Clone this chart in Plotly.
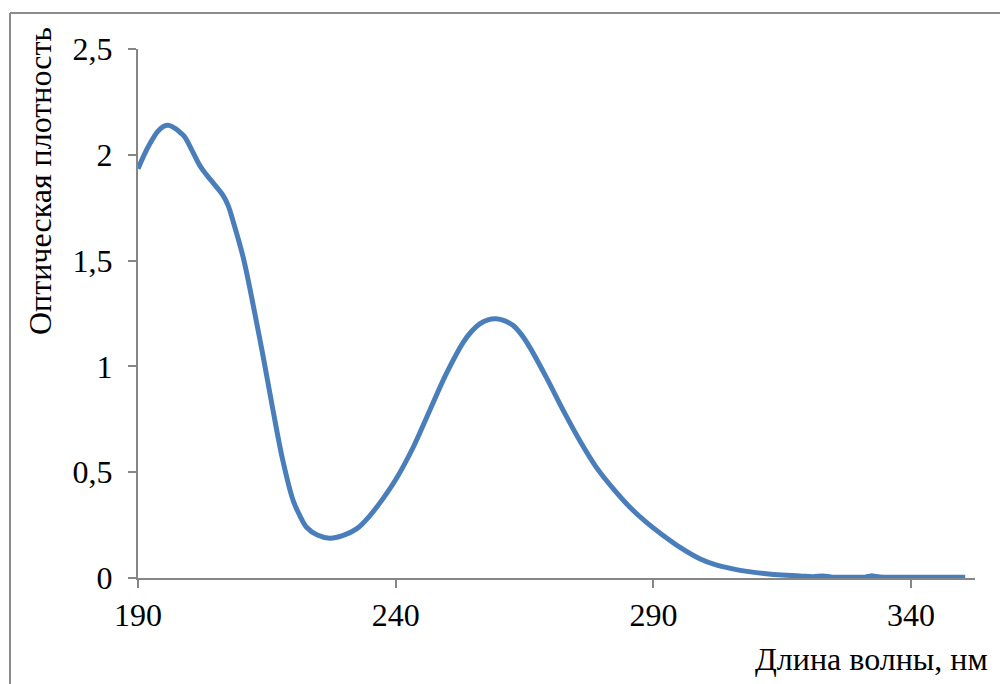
import plotly.graph_objects as go

wavelength = [190, 191.2, 192.3, 193.8, 195.0, 196.0, 197.2, 198.2, 199.1, 200.5, 202.0,
              203.3, 204.5, 205.5, 206.5, 207.5, 208.4, 210.4, 212.3, 214.3,
              216.2, 218.1, 220.1, 221.4, 222.7, 224.8, 227.2, 229.7, 232.4, 235.0, 237.5,
              240.1, 243.4, 246.6, 249.8, 253.1, 254.7, 256.3, 257.9, 259.5, 261.2, 262.8,
              264.4, 266.0, 269.2, 272.5, 275.7, 278.9, 282.2, 285.4, 288.6, 291.9, 295.1,
              299.0, 302.0, 305.4, 308.5, 311.9, 315.0, 318.4, 321.0, 322.9, 324.8, 328.0,
              331.0, 332.2, 334.0, 338.0, 342.0, 346.0, 350.5]
absorbance = [1.934, 2.000, 2.052, 2.110, 2.135, 2.139, 2.125, 2.105, 2.083, 2.020, 1.949,
              1.905, 1.870, 1.840, 1.808, 1.760, 1.690, 1.516, 1.296, 1.044,
              0.792, 0.555, 0.366, 0.295, 0.240, 0.203, 0.188, 0.200, 0.232, 0.295, 0.374,
              0.469, 0.618, 0.792, 0.965, 1.114, 1.165, 1.201, 1.220, 1.225, 1.215, 1.193,
              1.150, 1.091, 0.949, 0.792, 0.650, 0.524, 0.422, 0.335, 0.264, 0.201, 0.146,
              0.091, 0.063, 0.043, 0.030, 0.020, 0.014, 0.010, 0.006, 0.010, 0.004, 0.004,
              0.004, 0.010, 0.005, 0.003, 0.004, 0.004, 0.004]

x_ticks = [190, 240, 290, 340]
y_ticks = [0, 0.5, 1, 1.5, 2, 2.5]

x_title = "Длина волны, нм"
y_title = "Оптическая плотность"

OFF = 8  # page body margin
W, H = 1008 - OFF, 684 - OFF
L, R, T, B = 138 - OFF, 41 - OFF, 49 - OFF, 106
pw, ph = W - L - R, H - T - B

def px(xpix):
    return (xpix - OFF - L) / pw

def py(ypix):
    return (H - B - (ypix - OFF)) / ph

font_family = "Liberation Serif"
fs = 32
axis_color = "#868686"

fig = go.Figure()
fig.add_trace(go.Scatter(
    x=wavelength, y=absorbance, mode="lines",
    line=dict(color="#4A7EBB", width=5, shape="spline", smoothing=1.0),
    showlegend=False, hoverinfo="skip",
))

fig.update_layout(
    width=W, height=H,
    margin=dict(l=L, r=R, t=T, b=B, pad=0),
    paper_bgcolor="white", plot_bgcolor="white",
    separators=", ",
    font=dict(family=font_family, size=fs, color="black"),
    xaxis=dict(
        range=[190, 190 + pw / 5.154], tickvals=x_ticks,
        showgrid=False, zeroline=False, showline=True,
        linecolor=axis_color, linewidth=2,
        ticks="outside", ticklen=8, tickwidth=2, tickcolor=axis_color,
        ticklabelstandoff=0,
        tickfont=dict(family=font_family, size=fs, color="black"),
    ),
    yaxis=dict(
        range=[0, 2.5], tickvals=y_ticks,
        showgrid=False, zeroline=False, showline=True,
        linecolor=axis_color, linewidth=2,
        ticks="outside", ticklen=8, tickwidth=2, tickcolor=axis_color,
        ticklabelstandoff=9,
        tickfont=dict(family=font_family, size=fs, color="black"),
    ),
    shapes=[
        dict(type="line", xref="paper", yref="paper",
             x0=px(10), x1=px(1010), y0=py(13), y1=py(13),
             line=dict(color="#8C8C8C", width=2)),
        dict(type="line", xref="paper", yref="paper",
             x0=px(10), x1=px(10), y0=py(13), y1=py(690),
             line=dict(color="#8C8C8C", width=2)),
    ],
    annotations=[
        dict(text=y_title, xref="paper", yref="paper", x=px(40), y=py(181),
             xanchor="center", yanchor="middle", textangle=-90, showarrow=False,
             font=dict(family=font_family, size=fs, color="black")),
        dict(text=x_title, xref="paper", yref="paper", x=px(990), y=py(659),
             xanchor="right", yanchor="middle", showarrow=False,
             font=dict(family=font_family, size=fs, color="black")),
    ],
)

fig.write_html("out.html")
